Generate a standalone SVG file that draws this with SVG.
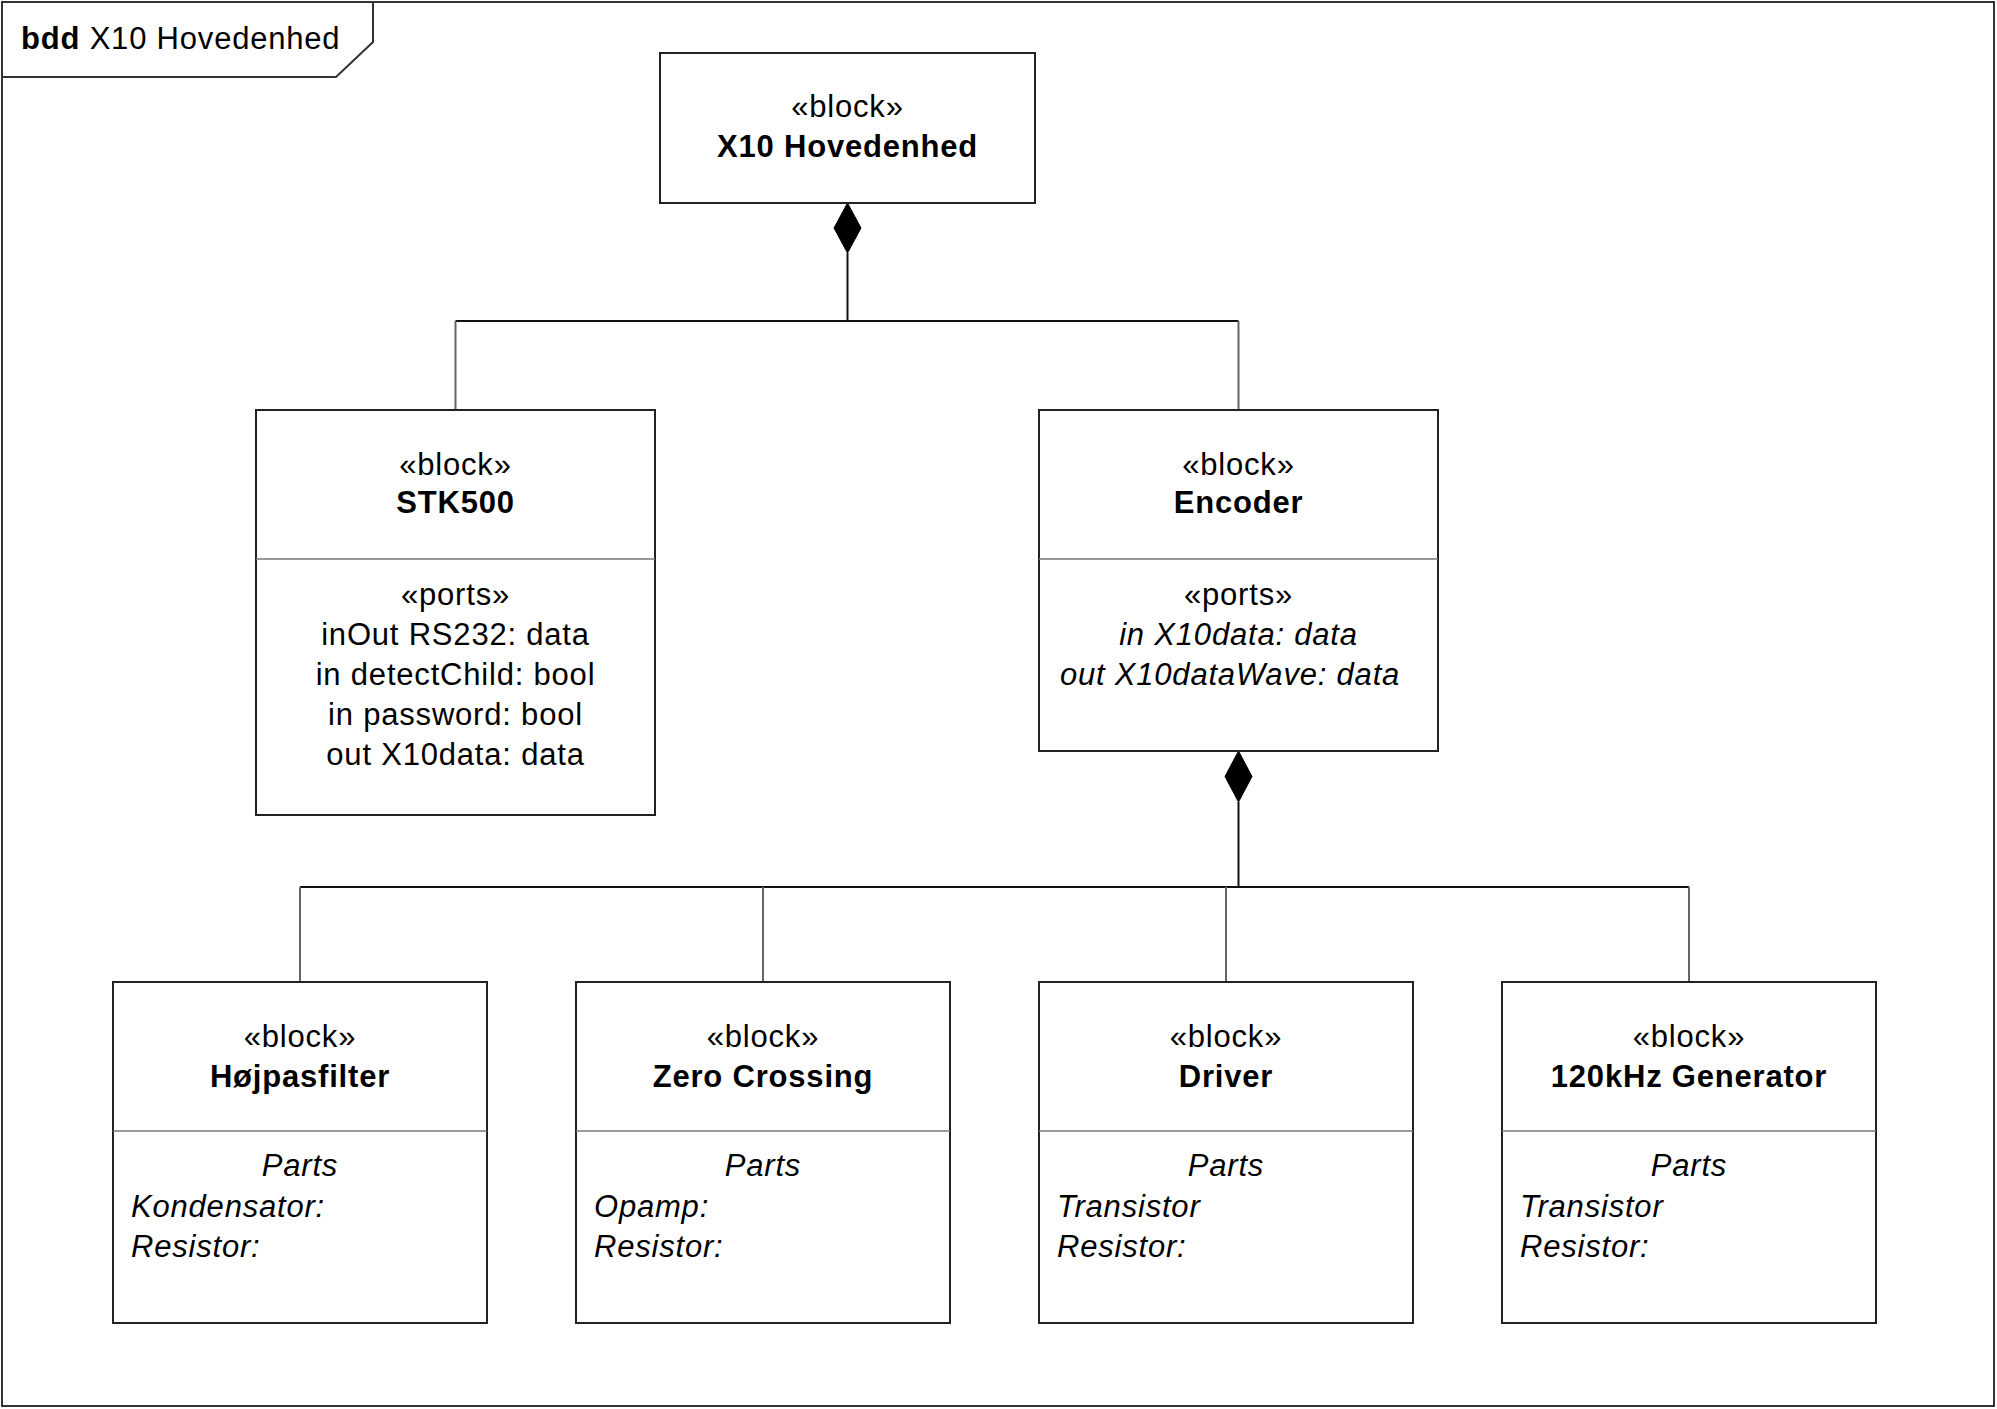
<svg xmlns="http://www.w3.org/2000/svg" width="1997" height="1409" viewBox="0 0 1997 1409">
<style>
text{font-family:"Liberation Sans",Arial,sans-serif;font-size:31px;fill:#000;letter-spacing:0.8px}
.c{text-anchor:middle}
.b{font-weight:bold}
.i{font-style:italic}
.box{fill:#fff;stroke:#222;stroke-width:2}
.div{stroke:#777;stroke-width:1.5}
.ln{stroke:#111;stroke-width:2;fill:none}
.drop{stroke:#666;stroke-width:2;fill:none}
.dia{fill:#000;stroke:#000;stroke-width:1}
</style>
<rect x="0" y="0" width="1997" height="1409" fill="#fff"/>
<g id="frame">
<rect x="2" y="2" width="1992" height="1404" fill="none" stroke="#333" stroke-width="2"/>
<path d="M2,77 L336,77 L373,42 L373,2" fill="none" stroke="#333" stroke-width="2"/>
<text x="21" y="49"><tspan class="b">bdd</tspan> X10 Hovedenhed</text>
</g>
<g id="connectors">
<polygon class="dia" points="847.5,203 861,228 847.5,253 834,228"/>
<path class="ln" d="M847.5,253 V321"/>
<path class="ln" d="M455.5,321 H1238.5"/>
<path class="drop" d="M455.5,321 V410 M1238.5,321 V410"/>
<polygon class="dia" points="1238.5,751 1252,776.5 1238.5,802 1225,776.5"/>
<path class="ln" d="M1238.5,802 V887"/>
<path class="ln" d="M300,887 H1689"/>
<path class="drop" d="M300,887 V982 M763,887 V982 M1226,887 V982 M1689,887 V982"/>
</g>
<g id="x10hovedenhed">
<rect class="box" x="660" y="53" width="375" height="150"/>
<text class="c" x="847.5" y="117">«block»</text>
<text class="c b" x="847.5" y="157">X10 Hovedenhed</text>
</g>
<g id="stk500">
<rect class="box" x="256" y="410" width="399" height="405"/>
<line class="div" x1="256" y1="559" x2="655" y2="559"/>
<text class="c" x="455.5" y="475">«block»</text>
<text class="c b" x="455.5" y="513">STK500</text>
<text class="c" x="455.5" y="605">«ports»</text>
<text class="c" x="455.5" y="645">inOut RS232: data</text>
<text class="c" x="455.5" y="685">in detectChild: bool</text>
<text class="c" x="455.5" y="725">in password: bool</text>
<text class="c" x="455.5" y="765">out X10data: data</text>
</g>
<g id="encoder">
<rect class="box" x="1039" y="410" width="399" height="341"/>
<line class="div" x1="1039" y1="559" x2="1438" y2="559"/>
<text class="c" x="1238.5" y="475">«block»</text>
<text class="c b" x="1238.5" y="513">Encoder</text>
<text class="c" x="1238.5" y="605">«ports»</text>
<text class="c i" x="1238.5" y="645">in X10data: data</text>
<text class="c i" x="1230" y="685">out X10dataWave: data</text>
</g>
<g id="hojpasfilter">
<rect class="box" x="113" y="982" width="374" height="341"/>
<line class="div" x1="113" y1="1131" x2="487" y2="1131"/>
<text class="c" x="300" y="1047">«block»</text>
<text class="c b" x="300" y="1087">Højpasfilter</text>
<text class="c i" x="300" y="1176">Parts</text>
<text class="i" x="131" y="1217">Kondensator:</text>
<text class="i" x="131" y="1257">Resistor:</text>
</g>
<g id="zerocrossing">
<rect class="box" x="576" y="982" width="374" height="341"/>
<line class="div" x1="576" y1="1131" x2="950" y2="1131"/>
<text class="c" x="763" y="1047">«block»</text>
<text class="c b" x="763" y="1087">Zero Crossing</text>
<text class="c i" x="763" y="1176">Parts</text>
<text class="i" x="594" y="1217">Opamp:</text>
<text class="i" x="594" y="1257">Resistor:</text>
</g>
<g id="driver">
<rect class="box" x="1039" y="982" width="374" height="341"/>
<line class="div" x1="1039" y1="1131" x2="1413" y2="1131"/>
<text class="c" x="1226" y="1047">«block»</text>
<text class="c b" x="1226" y="1087">Driver</text>
<text class="c i" x="1226" y="1176">Parts</text>
<text class="i" x="1057" y="1217">Transistor</text>
<text class="i" x="1057" y="1257">Resistor:</text>
</g>
<g id="generator120khz">
<rect class="box" x="1502" y="982" width="374" height="341"/>
<line class="div" x1="1502" y1="1131" x2="1876" y2="1131"/>
<text class="c" x="1689" y="1047">«block»</text>
<text class="c b" x="1689" y="1087">120kHz Generator</text>
<text class="c i" x="1689" y="1176">Parts</text>
<text class="i" x="1520" y="1217">Transistor</text>
<text class="i" x="1520" y="1257">Resistor:</text>
</g>
</svg>
